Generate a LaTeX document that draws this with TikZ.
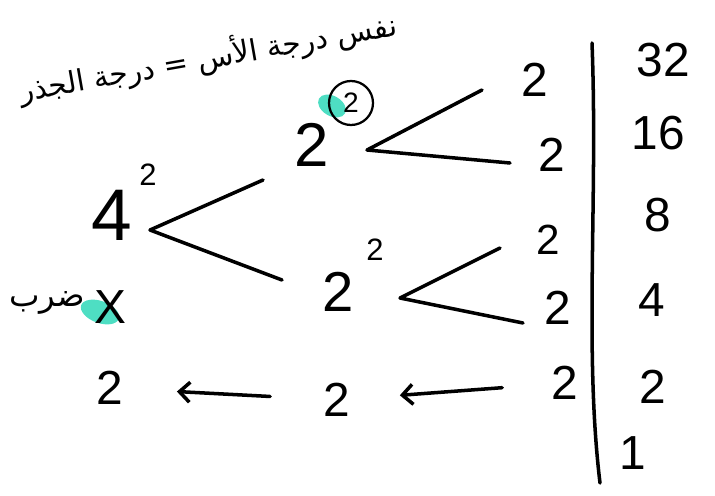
\documentclass[tikz,border=0pt]{standalone}
\usepackage{fontspec}
\setmainfont{Liberation Sans}
\newfontfamily\arabicfont[Script=Arabic]{DejaVu Sans}
\TeXXeTstate=1
\usepackage{tikz}
\usetikzlibrary{arrows.meta,positioning}
\definecolor{markerteal}{HTML}{2FD8B8}
\newcommand{\handfont}[1]{\fontsize{#1}{#1}\selectfont}
\tikzset{
  fact/num/.style={inner sep=1pt, font=\handfont{34}},
  fact/big/.style={inner sep=1pt, font=\handfont{44}},
  fact/power/.style={inner sep=1pt, font=\handfont{22}},
  fact/ring/.style={draw, circle, line width=1.6pt, inner sep=0pt, minimum size=11mm, font=\handfont{20}},
  fact/pen/.style={line width=2.5pt, line cap=round, line join=round},
  fact/back/.style={fact/pen, -{Straight Barb[length=2.6mm,width=5mm]}},
  fact/marker/.style={fill=markerteal, opacity=0.85},
  fact/note/.style={inner sep=1pt, font=\arabicfont\handfont{21}}
}

\begin{document}
\begin{tikzpicture}[x=0.25mm,y=-0.25mm]
  \useasboundingbox (0,0) rectangle (715,495);

  \fill[fact/marker, rotate around={-20:(100,312)}] (100,312) ellipse (20 and 11);
  \fill[fact/marker, rotate around={-30:(332,106)}] (332,106) ellipse (15 and 10);

  \node[fact/note, rotate=10] (rule) at (208,58) {\beginR نفس درجة الأس = درجة الجذر\endR};
  \node[fact/note, font=\arabicfont\handfont{23}] (mult) at (47,303) {\beginR ضرب\endR};
  \node[fact/num] (times) at (110,307) {X};

  \node[fact/num] (n32) at (663,60) {32};
  \node[fact/num] (n16) at (658,133) {16};
  \node[fact/num] (n8) at (658,215) {8};
  \node[fact/num] (n4) at (652,300) {4};
  \node[fact/num] (n2) at (653,387) {2};
  \node[fact/num] (n1) at (633,453) {1};
  \coordinate (bartop) at (592,43);
  \coordinate (barbot) at (600,483);
  \draw[fact/pen] (bartop) .. controls (598,200) and (584,350) .. (barbot);

  \node[fact/num] (p1) at (535,80) {2};
  \node[fact/num] (p2) at (552,155) {2};
  \node[fact/num, font=\handfont{30}] (p3) at (548,240) {2};
  \node[fact/num] (p4) at (558,308) {2};
  \node[fact/num] (p5) at (565,383) {2};

  \node[fact/big] (upper) at (312,145) {2};
  \node[fact/ring] (upperexp) at (351,103) {2};
  \node[fact/big, font=\handfont{40}] (lower) at (338,292) {2};
  \node[fact/power] (lowerexp) at (375,250) {2};
  \node[fact/big, font=\handfont{52}] (root) at (112,215) {4};
  \node[fact/power] (rootexp) at (148,175) {2};

  \coordinate (upperfork) at (367,150);
  \coordinate (upperup) at (482,90);
  \coordinate (upperdown) at (510,163);
  \draw[fact/pen] (upperup) -- (upperfork) -- (upperdown);
  \coordinate (lowerfork) at (400,298);
  \coordinate (lowerup) at (500,248);
  \coordinate (lowerdown) at (523,323);
  \draw[fact/pen] (lowerup) -- (lowerfork) -- (lowerdown);
  \coordinate (rootfork) at (150,230);
  \coordinate (rootup) at (263,180);
  \coordinate (rootdown) at (282,280);
  \draw[fact/pen] (rootup) -- (rootfork) -- (rootdown);

  \node[fact/num] (b1) at (110,388) {2};
  \node[fact/num] (b2) at (337,400) {2};
  \draw[fact/back, shorten <=12mm, shorten >=12mm] (p5) -- (b2);
  \draw[fact/back, shorten <=13mm, shorten >=13mm] (b2) -- (b1);
\end{tikzpicture}
\end{document}
